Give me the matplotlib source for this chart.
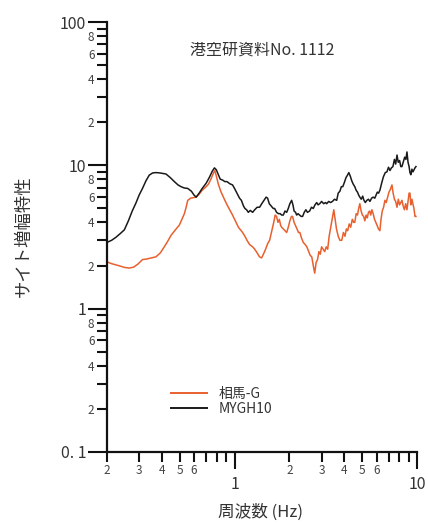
import math
import matplotlib
matplotlib.use("Agg")
import matplotlib.pyplot as plt
from matplotlib.ticker import FixedLocator, FuncFormatter
from matplotlib.lines import Line2D

plt.rcParams['font.family'] = ['Noto Sans CJK JP', 'DejaVu Sans']

# Site amplification factors (frequency in Hz, amplification)
freq_mygh10 = [
    0.200, 0.212, 0.224, 0.237, 0.249, 0.262, 0.275, 0.288, 0.300, 0.313,
    0.327, 0.341, 0.356, 0.371, 0.390, 0.421, 0.445, 0.468, 0.490, 0.509,
    0.530, 0.554, 0.580, 0.600, 0.616, 0.640, 0.665, 0.699, 0.730, 0.755,
    0.776, 0.795, 0.815, 0.835, 0.859, 0.885, 0.910, 0.940, 0.975, 1.000,
    1.030, 1.065, 1.090, 1.120, 1.140, 1.164, 1.190, 1.220, 1.256, 1.290,
    1.330, 1.372, 1.410, 1.450, 1.490, 1.518, 1.550, 1.590, 1.630, 1.659,
    1.700, 1.740, 1.780, 1.812, 1.850, 1.890, 1.931, 1.970, 2.010, 2.056,
    2.090, 2.120, 2.160, 2.190, 2.230, 2.270, 2.320, 2.360, 2.410, 2.460,
    2.510, 2.580, 2.640, 2.700, 2.760, 2.820, 2.870, 2.930, 3.000, 3.080,
    3.150, 3.200, 3.280, 3.360, 3.440, 3.530, 3.630, 3.700, 3.780, 3.850,
    3.920, 4.000, 4.080, 4.150, 4.230, 4.310, 4.390, 4.470, 4.560, 4.640,
    4.720, 4.790, 4.860, 4.950, 5.040, 5.120, 5.210, 5.310, 5.420, 5.520,
    5.640, 5.750, 5.870, 5.970, 6.060, 6.160, 6.260, 6.400, 6.540, 6.700,
    6.840, 6.980, 7.110, 7.240, 7.380, 7.520, 7.640, 7.770, 7.890, 8.030,
    8.150, 8.270, 8.420, 8.560, 8.690, 8.810, 8.930, 9.050, 9.150, 9.250,
    9.380, 9.500, 9.620, 9.750, 9.870,
]
amp_mygh10 = [
    2.90, 3.00, 3.15, 3.35, 3.55, 4.10, 4.80, 5.45, 6.20, 6.90,
    7.80, 8.55, 8.85, 8.90, 8.85, 8.70, 8.20, 7.70, 7.30, 7.10,
    6.95, 6.90, 6.60, 6.20, 6.00, 6.40, 6.90, 7.50, 8.30, 9.10,
    9.60, 9.30, 8.60, 8.00, 7.90, 7.70, 7.70, 7.45, 7.30, 6.90,
    6.40, 5.90, 5.70, 5.20, 5.00, 4.90, 4.70, 4.85, 4.70, 4.90,
    5.10, 5.10, 5.40, 5.70, 6.00, 5.90, 5.40, 5.20, 5.00, 5.00,
    4.70, 4.60, 4.60, 4.50, 4.50, 4.80, 4.70, 5.00, 5.40, 5.70,
    5.30, 4.80, 4.70, 4.50, 4.60, 4.50, 4.40, 4.40, 4.70, 4.90,
    4.70, 4.80, 5.10, 5.00, 5.30, 5.50, 5.30, 5.40, 5.60, 5.40,
    5.50, 5.40, 5.60, 5.50, 5.60, 5.80, 5.70, 6.40, 6.60, 7.10,
    7.10, 7.60, 8.20, 8.50, 8.90, 8.40, 7.80, 7.40, 7.10, 6.70,
    6.50, 6.20, 6.00, 5.80, 6.10, 5.70, 5.50, 5.70, 5.80, 5.60,
    5.90, 6.00, 5.90, 6.20, 6.50, 6.40, 6.70, 7.50, 8.30, 8.90,
    9.00, 9.70, 9.20, 9.60, 9.80, 11.00, 10.20, 11.80, 10.50, 10.80,
    9.80, 9.80, 10.60, 11.40, 11.00, 12.40, 10.50, 9.80, 8.90, 8.60,
    9.40, 9.00, 9.30, 9.60, 9.80,
]

freq_soma = [
    0.200, 0.212, 0.224, 0.237, 0.249, 0.265, 0.280, 0.296, 0.313, 0.330,
    0.350, 0.371, 0.392, 0.412, 0.430, 0.449, 0.470, 0.499, 0.515, 0.531,
    0.543, 0.554, 0.575, 0.595, 0.616, 0.640, 0.665, 0.699, 0.720, 0.745,
    0.765, 0.780, 0.795, 0.815, 0.840, 0.859, 0.885, 0.910, 0.940, 0.975,
    1.010, 1.050, 1.107, 1.140, 1.170, 1.210, 1.256, 1.290, 1.330, 1.370,
    1.407, 1.440, 1.480, 1.520, 1.557, 1.600, 1.640, 1.670, 1.700, 1.730,
    1.760, 1.790, 1.812, 1.850, 1.890, 1.931, 1.970, 2.010, 2.050, 2.080,
    2.120, 2.160, 2.200, 2.240, 2.280, 2.330, 2.380, 2.440, 2.490, 2.550,
    2.600, 2.650, 2.700, 2.750, 2.800, 2.850, 2.900, 2.950, 3.000, 3.060,
    3.120, 3.180, 3.240, 3.300, 3.380, 3.440, 3.500, 3.560, 3.620, 3.700,
    3.780, 3.870, 3.950, 4.030, 4.100, 4.170, 4.250, 4.330, 4.420, 4.500,
    4.560, 4.640, 4.720, 4.790, 4.860, 4.940, 5.020, 5.100, 5.180, 5.260,
    5.340, 5.420, 5.500, 5.580, 5.660, 5.750, 5.850, 5.950, 6.050, 6.150,
    6.260, 6.350, 6.450, 6.560, 6.670, 6.780, 6.900, 7.020, 7.150, 7.290,
    7.400, 7.520, 7.640, 7.770, 7.900, 8.030, 8.150, 8.270, 8.400, 8.530,
    8.670, 8.810, 8.950, 9.050, 9.150, 9.250, 9.380, 9.500, 9.620, 9.750,
    9.870,
]
amp_soma = [
    2.12, 2.06, 2.02, 1.98, 1.94, 1.92, 1.95, 2.05, 2.20, 2.22,
    2.26, 2.30, 2.45, 2.70, 2.95, 3.25, 3.50, 3.84, 4.20, 4.60,
    5.10, 5.70, 5.90, 5.95, 6.00, 6.30, 6.70, 7.10, 7.40, 8.10,
    8.80, 9.20, 8.40, 7.40, 6.60, 6.20, 5.70, 5.30, 4.90, 4.50,
    4.10, 3.70, 3.40, 3.20, 3.00, 2.80, 2.70, 2.60, 2.45, 2.30,
    2.26, 2.40, 2.60, 2.85, 3.00, 3.50, 4.00, 4.50, 4.40, 4.00,
    4.20, 3.80, 3.70, 3.60, 3.50, 3.40, 3.70, 4.10, 4.40, 4.40,
    4.00, 3.80, 3.60, 3.40, 3.40, 3.10, 2.90, 2.80, 2.70, 2.50,
    2.35, 2.30, 2.00, 1.77, 2.10, 2.20, 2.50, 2.40, 2.70, 2.60,
    2.50, 2.70, 2.60, 3.20, 3.80, 4.30, 4.90, 4.20, 3.60, 3.20,
    3.00, 3.00, 3.40, 3.20, 3.60, 3.50, 3.90, 3.70, 4.20, 4.00,
    4.00, 4.60, 4.50, 5.00, 5.40, 4.80, 4.50, 4.40, 4.10, 4.50,
    4.30, 4.70, 4.80, 4.50, 4.90, 4.60, 4.20, 4.00, 3.80, 3.60,
    3.50, 4.20, 4.80, 5.10, 5.70, 5.50, 6.00, 6.50, 6.80, 7.30,
    6.40, 5.80, 5.60, 5.10, 5.80, 5.30, 5.50, 5.70, 5.20, 4.90,
    5.40, 4.90, 5.70, 6.40, 6.40, 5.30, 5.80, 5.40, 5.00, 4.40,
    4.40,
]

series_labels = ['相馬-G', 'MYGH10']
series_colors = ['#e8602e', '#1a1a1a']
title_text = '港空研資料No. 1112'
x_label = '周波数 (Hz)'
y_label = 'サイト増幅特性'

y_major = [0.1, 1, 10, 100]
y_major_labels = ['0. 1', '1', '10', '100']
x_major = [1, 10]
x_major_labels = ['1', '10']
y_minor_labeled = [2, 4, 6, 8]
x_minor_labeled = [2, 3, 4, 5, 6]


def nearest_label(v, positions, labels):
    i = min(range(len(positions)), key=lambda k: abs(math.log10(positions[k]) - math.log10(v)))
    return labels[i]


def leading_digit(v):
    return int(round(v / 10 ** math.floor(math.log10(v) + 1e-9)))


fig = plt.figure(figsize=(4.28, 5.24), dpi=100)
ax = fig.add_axes([107 / 428, 72 / 524, 310 / 428, 430 / 524])

ax.plot(freq_soma, amp_soma, color=series_colors[0], lw=1.1)
ax.plot(freq_mygh10, amp_mygh10, color=series_colors[1], lw=1.1)

ax.set_xscale('log')
ax.set_yscale('log')
ax.set_xlim(0.2, 10)
ax.set_ylim(0.1, 100)

for s in ['top', 'right']:
    ax.spines[s].set_visible(False)
for s in ['left', 'bottom']:
    ax.spines[s].set_linewidth(1.6)
    ax.spines[s].set_color('#111111')

# y axis: decades labelled large, 2/4/6/8 labelled small
ax.yaxis.set_major_locator(FixedLocator(y_major))
ax.yaxis.set_major_formatter(FuncFormatter(
    lambda v, p: nearest_label(v, y_major, y_major_labels)))
y_minor = [m * d for d in [0.1, 1, 10] for m in range(2, 10)]
ax.yaxis.set_minor_locator(FixedLocator(y_minor))
ax.yaxis.set_minor_formatter(FuncFormatter(
    lambda v, p: str(leading_digit(v)) if leading_digit(v) in y_minor_labeled else ''))
ax.tick_params(axis='y', which='major', length=14, width=1.5, pad=1,
               labelsize=11.5, colors='#111111', labelcolor='#333333')
ax.tick_params(axis='y', which='minor', length=7, width=1.5, pad=2,
               labelsize=8.5, colors='#111111', labelcolor='#444444')

# x axis: 1 and 10 labelled large, 2..6 labelled small
ax.xaxis.set_major_locator(FixedLocator(x_major))
ax.xaxis.set_major_formatter(FuncFormatter(
    lambda v, p: nearest_label(v, x_major, x_major_labels)))
x_minor = [m * d for d in [0.1, 1] for m in range(2, 10) if m * d >= 0.2]
ax.xaxis.set_minor_locator(FixedLocator(x_minor))
ax.xaxis.set_minor_formatter(FuncFormatter(
    lambda v, p: str(leading_digit(v)) if leading_digit(v) in x_minor_labeled else ''))
ax.tick_params(axis='x', which='major', length=12, width=1.5, pad=5,
               labelsize=11.5, colors='#111111', labelcolor='#333333')
ax.tick_params(axis='x', which='minor', length=7, width=1.5, pad=2,
               labelsize=8.5, colors='#111111', labelcolor='#444444')

fig.text(262 / 428, 1 - 50 / 524, title_text, ha='center', va='center',
         fontsize=11.5, color='#333333')
fig.text(24 / 428, 1 - 236 / 524, y_label, ha='center', va='center',
         rotation=90, fontsize=12.5, color='#333333')
fig.text(260 / 428, 1 - 512 / 524, x_label, ha='center', va='center',
         fontsize=12, color='#333333')

handles = [Line2D([], [], color=c, lw=1.4) for c in series_colors]
ax.legend(handles, series_labels, loc='upper left',
          bbox_to_anchor=(57 / 310, 72 / 430), frameon=False, borderpad=0,
          handlelength=2.6, handletextpad=0.8, labelspacing=0.05,
          fontsize=10, labelcolor='#333333')

fig.savefig('out.png', dpi=100, facecolor='white')
